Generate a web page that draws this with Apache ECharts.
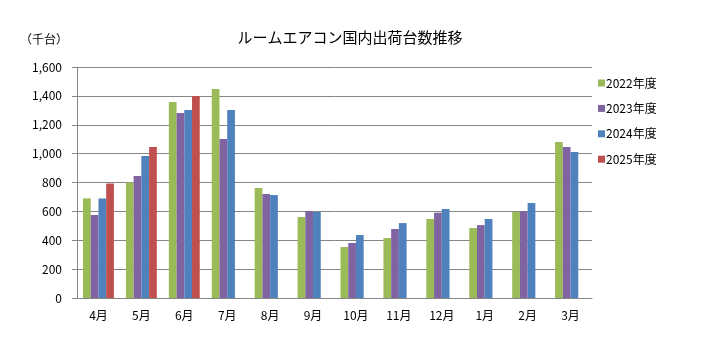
<!DOCTYPE html>
<html><head><meta charset="utf-8">
<script src="https://cdn.jsdelivr.net/npm/echarts@6/dist/echarts.min.js"></script>
<style>html,body{margin:0;padding:0;background:#fff}#c{width:706px;height:355px}</style>
</head><body><div id="c"></div>
<script>
const months = ['4月','5月','6月','7月','8月','9月','10月','11月','12月','1月','2月','3月'];
const seriesNames = ['2022年度','2023年度','2024年度','2025年度'];
const fy2022 = [690, 800, 1357, 1447, 762, 561, 353, 415, 547, 485, 596, 1080];
const fy2023 = [575, 845, 1281, 1101, 720, 602, 381, 478, 591, 505, 602, 1046];
const fy2024 = [690, 983, 1302, 1302, 713, 596, 436, 519, 616, 547, 658, 1011];
const fy2025 = [793, 1046, 1399, null, null, null, null, null, null, null, null, null];
const yTicks = [0, 200, 400, 600, 800, 1000, 1200, 1400, 1600];
const colors = ['#9BBB59','#8064A2','#4F81BD','#C0504D'];
const font = '"Noto Sans CJK JP", "Noto Sans", sans-serif';
const chart = echarts.init(document.getElementById('c'));
const data = [fy2022, fy2023, fy2024, fy2025];
chart.setOption({
  animation: false,
  color: colors,
  textStyle: {fontFamily: font},
  title: [{
    text: 'ルームエアコン国内出荷台数推移', left: 345, top: 25, textAlign: 'center',
    textStyle: {fontSize: 15, fontWeight: 'normal', color: '#000', fontFamily: font}
  }, {
    text: '（千台）', left: 15, top: 28,
    textStyle: {fontSize: 12, fontWeight: 'normal', color: '#000', fontFamily: font}
  }],
  legend: {
    orient: 'vertical', left: 593, top: 72, itemWidth: 7, itemHeight: 7, itemGap: 13.4,
    icon: 'rect', data: seriesNames,
    textStyle: {fontSize: 12, color: '#000', fontFamily: font, padding: [0,0,0,-4]}
  },
  grid: {left: 77, right: 114, top: 67, bottom: 57},
  xAxis: {
    type: 'category', data: months,
    axisLine: {lineStyle: {color: '#868686'}},
    axisTick: {length: 5, lineStyle: {color: '#868686'}},
    axisLabel: {fontSize: 12, color: '#000', margin: 11, fontFamily: font}
  },
  yAxis: {
    type: 'value', min: yTicks[0], max: yTicks[yTicks.length-1], interval: 200,
    axisLine: {show: true, lineStyle: {color: '#868686'}},
    axisTick: {show: true, length: 5, lineStyle: {color: '#868686'}},
    splitLine: {lineStyle: {color: '#868686', width: 1}},
    axisLabel: {fontSize: 12, color: '#000', margin: 15, fontFamily: font,
      formatter: v => v.toLocaleString('en-US')}
  },
  series: seriesNames.map((n, i) => ({
    name: n, type: 'bar', data: data[i], barGap: '0%', barCategoryGap: '28%'
  }))
});
</script></body></html>
